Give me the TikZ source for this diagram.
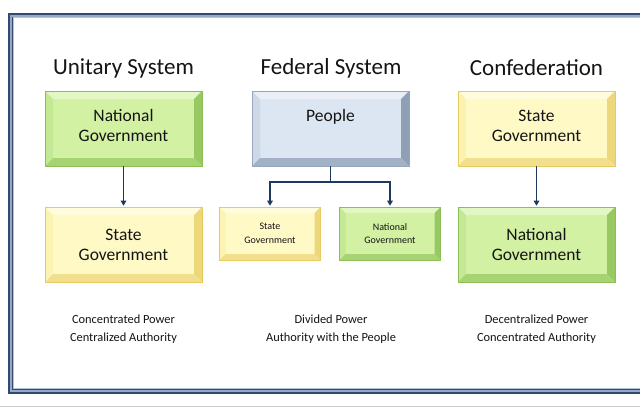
\documentclass[tikz,border=0pt]{standalone}
\usepackage{fontspec}
\setmainfont{Carlito}
\usetikzlibrary{arrows.meta}
\definecolor{gF}{RGB}{210,241,163}
\definecolor{gT}{RGB}{226,247,196}
\definecolor{gL}{RGB}{196,233,148}
\definecolor{gR}{RGB}{152,200,98}
\definecolor{gB}{RGB}{168,211,114}
\definecolor{gE}{RGB}{140,190,88}
\definecolor{yF}{RGB}{255,249,198}
\definecolor{yT}{RGB}{255,252,222}
\definecolor{yL}{RGB}{252,243,178}
\definecolor{yR}{RGB}{236,216,122}
\definecolor{yB}{RGB}{241,223,142}
\definecolor{yE}{RGB}{232,203,96}
\definecolor{bF}{RGB}{220,230,242}
\definecolor{bT}{RGB}{234,239,247}
\definecolor{bL}{RGB}{206,217,231}
\definecolor{bR}{RGB}{142,159,182}
\definecolor{bB}{RGB}{162,177,197}
\definecolor{bE}{RGB}{150,166,188}
\definecolor{arrowc}{RGB}{31,56,96}
\definecolor{frameD}{RGB}{50,74,112}
\definecolor{frameL}{RGB}{150,170,200}
\definecolor{textc}{RGB}{20,20,20}
\tikzset{
  bevelbox/.style n args={7}{draw=#7, fill=#2, line width=0.6pt, inner sep=0pt, align=center, text=textc,
    path picture={
      \fill[#3] (path picture bounding box.north west) -- (path picture bounding box.north east)
        -- ([xshift=-#1,yshift=-#1]path picture bounding box.north east)
        -- ([xshift=#1,yshift=-#1]path picture bounding box.north west) -- cycle;
      \fill[#4] (path picture bounding box.north west) -- (path picture bounding box.south west)
        -- ([xshift=#1,yshift=#1]path picture bounding box.south west)
        -- ([xshift=#1,yshift=-#1]path picture bounding box.north west) -- cycle;
      \fill[#5] (path picture bounding box.north east) -- (path picture bounding box.south east)
        -- ([xshift=-#1,yshift=#1]path picture bounding box.south east)
        -- ([xshift=-#1,yshift=-#1]path picture bounding box.north east) -- cycle;
      \fill[#6] (path picture bounding box.south west) -- (path picture bounding box.south east)
        -- ([xshift=-#1,yshift=#1]path picture bounding box.south east)
        -- ([xshift=#1,yshift=#1]path picture bounding box.south west) -- cycle;
    }},
  greenbox/.style={bevelbox={#1}{gF}{gT}{gL}{gR}{gB}{gE}}, greenbox/.default=8pt,
  yellowbox/.style={bevelbox={#1}{yF}{yT}{yL}{yR}{yB}{yE}}, yellowbox/.default=8pt,
  bluebox/.style={bevelbox={#1}{bF}{bT}{bL}{bR}{bB}{bE}}, bluebox/.default=8pt,
  bigfont/.style={font=\fontsize{17.5}{20}\selectfont, text=textc, align=center},
  big/.style={minimum width=157pt, minimum height=75pt, bigfont},
  small/.style={minimum width=101pt, minimum height=53pt, font=\fontsize{10}{13.5}\selectfont},
  uptext/.style={label={[bigfont, yshift=3pt]center:#1}},
  title/.style={font=\fontsize{23}{28}\selectfont, text=textc},
  note/.style={font=\fontsize{12.4}{18}\selectfont, align=center, text=textc},
  conn/.style={draw=arrowc, line width=1.5pt, -{Triangle[length=5pt,width=5.5pt]}, shorten >=1pt},
}
\begin{document}
\begin{tikzpicture}[x=1pt,y=-1pt]
\useasboundingbox (0,0) rectangle (640,408);
\fill[white] (0,0) rectangle (640,408);
% frame
\draw[frameD, line width=2pt] (9,13.5) rectangle (700,393);
\draw[frameL, line width=2pt] (11,15.5) rectangle (698,391);
\draw[frameD, line width=0.8pt] (12.4,16.9) rectangle (696.6,389.6);
\draw[frameL!70, line width=1pt] (13.3,17.8) rectangle (695.7,388.7);
\draw[gray!40, line width=1pt] (0,406) -- (640,406);
% titles
\node[title] (t1) at (123.5,68) {Unitary System};
\node[title] (t2) at (331,68) {Federal System};
\node[title] (t3) at (536.5,68) {Confederation};
% boxes
\node[greenbox, big, uptext={National\\Government}] (un) at (123.5,128.5) {};
\node[yellowbox, big] (us) at (123.5,244.5) {State\\Government};
\node[bluebox, big] (people) at (330.5,128.5) {};
\node[bigfont] (peopletext) at (330.5,116.5) {People};
\node[yellowbox=6pt, small] (fs) at (270,233.5) {State\\Government};
\node[greenbox=6pt, small] (fn) at (390,233.5) {National\\Government};
\node[yellowbox, big, uptext={State\\Government}] (cs) at (536.5,128.5) {};
\node[greenbox, big] (cn) at (536.5,244.5) {National\\Government};
% connectors
\draw[conn] (un) -- (us);
\draw[conn] (cs) -- (cn);
\draw[conn] (people.south) -- ++(0,15.5) -| (fs.north);
\draw[conn] (people.south) -- ++(0,15.5) -| (fn.north);
% notes
\node[note] (n1) at (123.5,329) {Concentrated Power\\Centralized Authority};
\node[note] (n2) at (331,329) {Divided Power\\Authority with the People};
\node[note] (n3) at (536.5,329) {Decentralized Power\\Concentrated Authority};
\end{tikzpicture}
\end{document}
